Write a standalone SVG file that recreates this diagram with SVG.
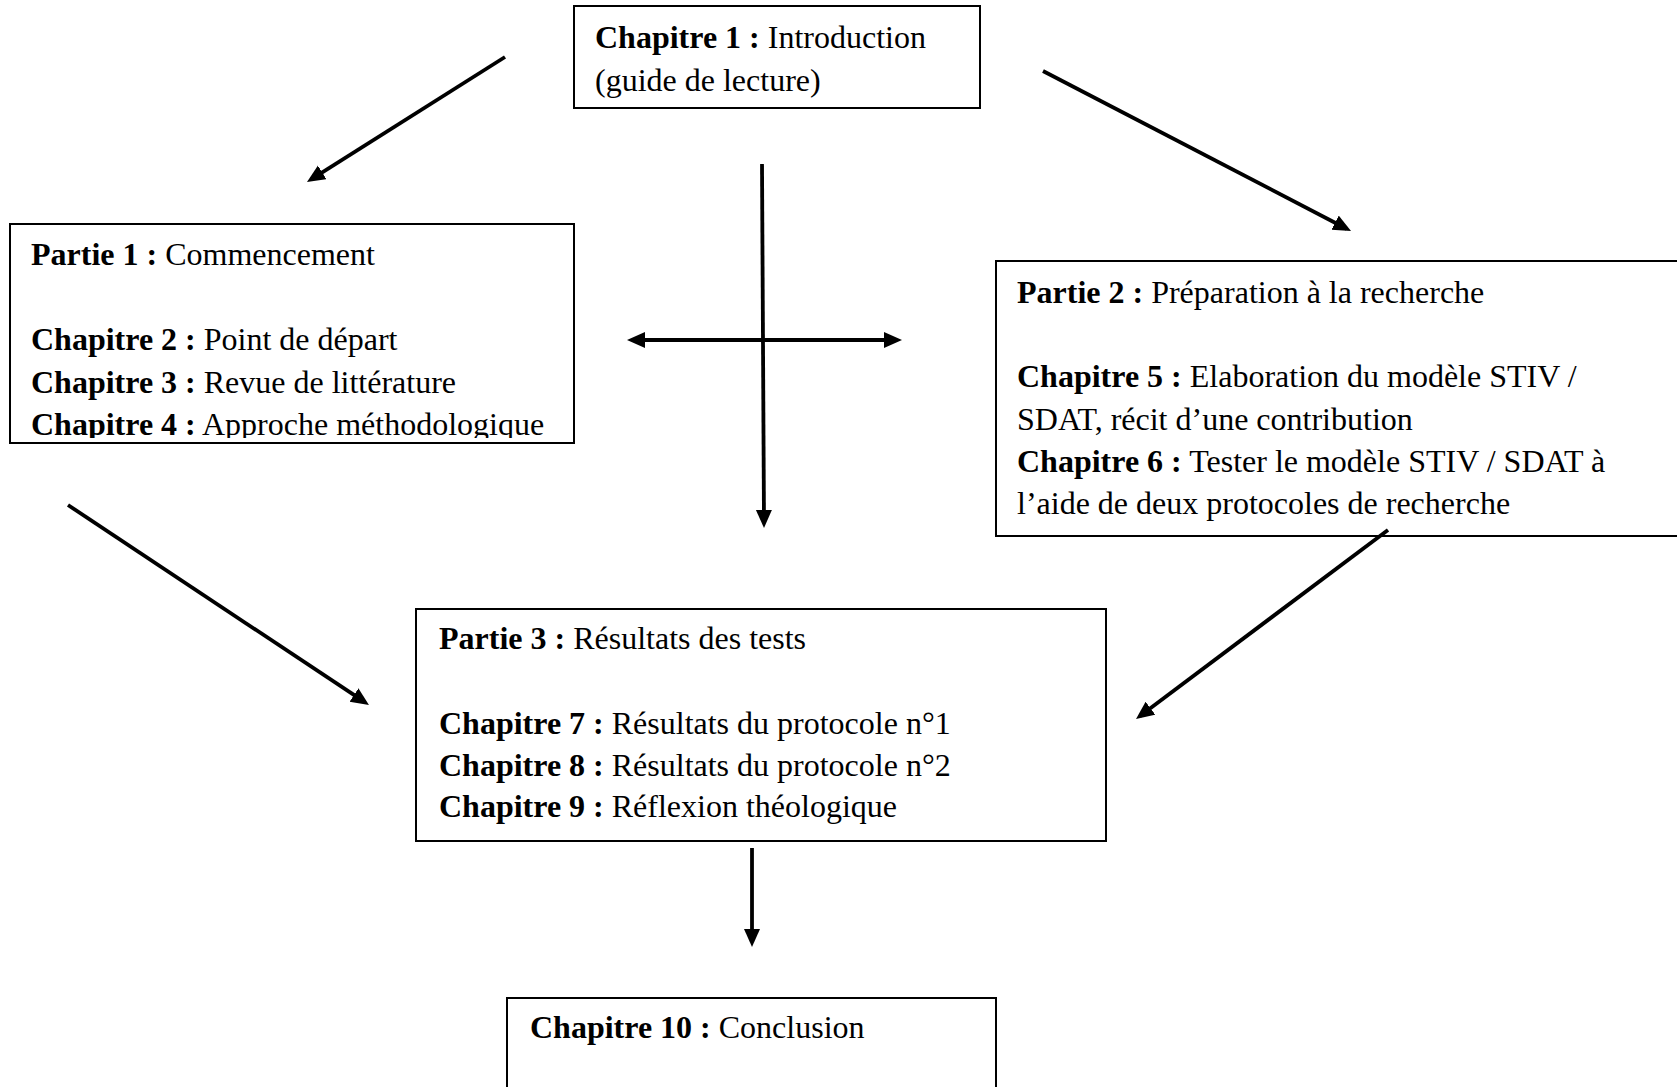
<svg xmlns="http://www.w3.org/2000/svg" width="1677" height="1087" viewBox="0 0 1677 1087">
<style>
.box{fill:#fff;stroke:#000;stroke-width:2}
.t{font-family:"Liberation Serif","Times New Roman",serif;font-size:32px;fill:#000}
.b{font-weight:bold}
.c{fill:none;stroke:#000;stroke-width:3.8;marker-end:url(#ah)}
</style>
<defs>
<marker id="ah" markerUnits="userSpaceOnUse" markerWidth="19" markerHeight="17" refX="13" refY="8" orient="auto-start-reverse" viewBox="0 0 19 17">
<path d="M0,0 L18,8 L0,16 z" fill="#000"/>
</marker>
<clipPath id="clipP1"><rect x="11" y="225" width="562" height="213"/></clipPath>
</defs>
<rect width="1677" height="1087" fill="#fff"/>
<g id="ch1">
<rect class="box" x="574" y="6" width="406" height="102"/>
<text class="t" x="595" y="48"><tspan class="b">Chapitre 1 :</tspan> Introduction</text>
<text class="t" x="595" y="91">(guide de lecture)</text>
</g>
<g id="partie1">
<rect class="box" x="10" y="224" width="564" height="219"/>
<g clip-path="url(#clipP1)">
<text class="t" x="31" y="265"><tspan class="b">Partie 1 :</tspan> Commencement</text>
<text class="t" x="31" y="350"><tspan class="b">Chapitre 2 :</tspan> Point de départ</text>
<text class="t" x="31" y="392.5"><tspan class="b">Chapitre 3 :</tspan> Revue de littérature</text>
<text class="t" x="31" y="435"><tspan class="b">Chapitre 4 :</tspan> Approche méthodologique</text>
</g>
</g>
<g id="partie2">
<rect class="box" x="996" y="261" width="700" height="275"/>
<text class="t" x="1017" y="303"><tspan class="b">Partie 2 :</tspan> Préparation à la recherche</text>
<text class="t" x="1017" y="387"><tspan class="b">Chapitre 5 :</tspan> Elaboration du modèle STIV /</text>
<text class="t" x="1017" y="429.5">SDAT, récit d’une contribution</text>
<text class="t" x="1017" y="472"><tspan class="b">Chapitre 6 :</tspan> Tester le modèle STIV / SDAT à</text>
<text class="t" x="1017" y="514">l’aide de deux protocoles de recherche</text>
</g>
<g id="partie3">
<rect class="box" x="416" y="609" width="690" height="232"/>
<text class="t" x="439" y="649"><tspan class="b">Partie 3 :</tspan> Résultats des tests</text>
<text class="t" x="439" y="733.5"><tspan class="b">Chapitre 7 :</tspan> Résultats du protocole n°1</text>
<text class="t" x="439" y="775.5"><tspan class="b">Chapitre 8 :</tspan> Résultats du protocole n°2</text>
<text class="t" x="439" y="817"><tspan class="b">Chapitre 9 :</tspan> Réflexion théologique</text>
</g>
<g id="ch10">
<rect class="box" x="507" y="998" width="489" height="120"/>
<text class="t" x="530" y="1038"><tspan class="b">Chapitre 10 :</tspan> Conclusion</text>
</g>
<g id="connectors">
<line class="c" x1="505" y1="57" x2="311.2" y2="179.3"/>
<line class="c" x1="1043" y1="71" x2="1346.6" y2="228.7"/>
<line class="c" x1="762" y1="164" x2="764" y2="523"/>
<line class="c" x1="632" y1="340" x2="897" y2="340" style="marker-start:url(#ah)"/>
<line class="c" x1="68" y1="505" x2="364.8" y2="702.2"/>
<line class="c" x1="1388" y1="530" x2="1140" y2="716"/>
<line class="c" x1="752" y1="848" x2="752" y2="942"/>
</g>
</svg>
